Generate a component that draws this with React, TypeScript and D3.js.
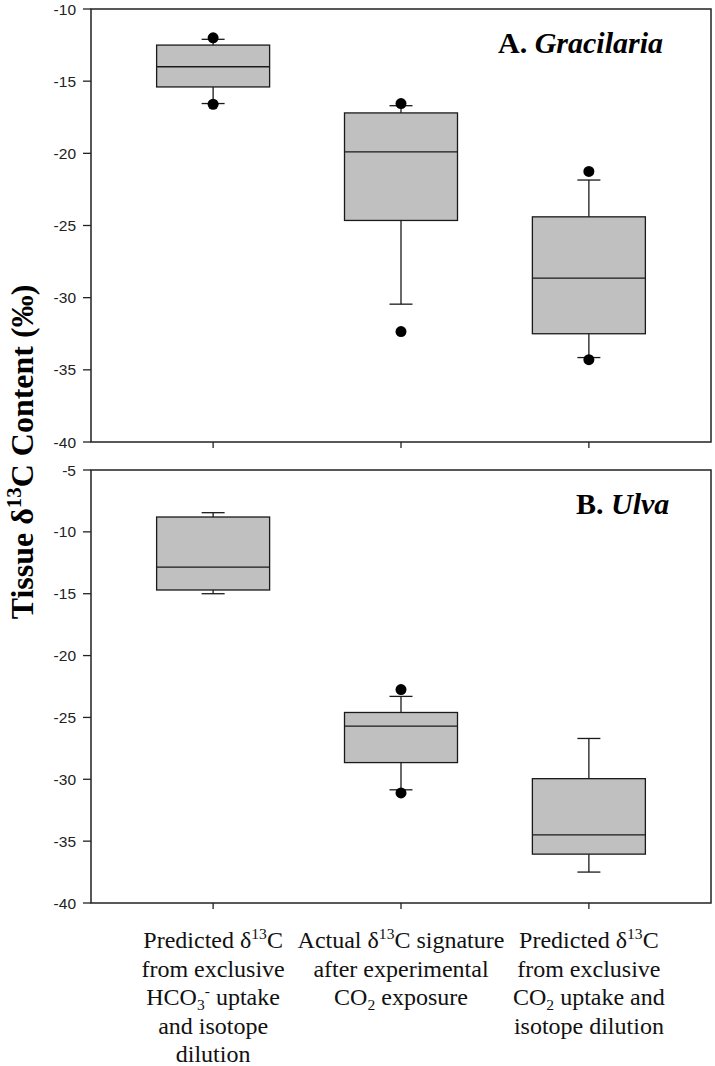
import React from "react";
import * as d3 from "d3";

// category labels (^{} = superscript, _{} = subscript)
const categories = ["hco3", "actual", "co2"];
const categoryLabels = [
  ["Predicted δ^{13}C", "from exclusive", "HCO_{3}^{-} uptake", "and isotope", "dilution"],
  ["Actual δ^{13}C signature", "after experimental", "CO_{2} exposure"],
  ["Predicted δ^{13}C", "from exclusive", "CO_{2} uptake and", "isotope dilution"],
];

// A. Gracilaria
const gracQ1 = [-15.4, -24.65, -32.5];
const gracMedian = [-14.0, -19.9, -28.65];
const gracQ3 = [-12.5, -17.2, -24.4];
const gracWhiskLow = [-16.55, -30.45, -34.15];
const gracWhiskHigh = [-12.1, -16.7, -21.85];
const gracOutliers = [[-12.0, -16.6], [-16.55, -32.35], [-21.25, -34.3]];

// B. Ulva
const ulvaQ1 = [-14.7, -28.65, -36.05];
const ulvaMedian = [-12.85, -25.7, -34.5];
const ulvaQ3 = [-8.8, -24.6, -29.95];
const ulvaWhiskLow = [-15.0, -30.85, -37.5];
const ulvaWhiskHigh = [-8.45, -23.3, -26.7];
const ulvaOutliers = [[], [-22.75, -31.1], []];

const gracTicks = [-40, -35, -30, -25, -20, -15, -10];
const ulvaTicks = [-40, -35, -30, -25, -20, -15, -10, -5];

const serif = "'Times New Roman', 'Liberation Serif', serif";
const sans = "Arial, 'Liberation Sans', sans-serif";

const left = 91;
const right = 711;

const x = d3.scalePoint<string>().domain(categories).range([left, right]).padding(0.65);
const boxW = 113;
const capW = 23;

// split "a^{b}c_{d}" into pieces
const parts = (s: string) =>
  s.split(/(\^\{[^}]*\}|_\{[^}]*\})/).filter((p) => p !== "").map((p) => {
    if (p.startsWith("^{")) return { t: p.slice(2, -1), k: "sup" };
    if (p.startsWith("_{")) return { t: p.slice(2, -1), k: "sub" };
    return { t: p, k: "" };
  });

const RichText = ({ s, size }: { s: string; size: number }) => {
  let shift = 0;
  const out: any[] = [];
  parts(s).forEach((p, i) => {
    const target = p.k === "sup" ? -size * 0.38 : p.k === "sub" ? size * 0.22 : 0;
    out.push(
      <tspan key={i} dy={target - shift} fontSize={p.k ? size * 0.65 : size}>
        {p.t}
      </tspan>
    );
    shift = target;
  });
  return <>{out}</>;
};

const Panel = ({ top, bottom, domain, ticks, q1, med, q3, lo, hi, outl, name, labelX, labelSize }: any) => {
  const y = d3.scaleLinear().domain(domain).range([bottom, top]);
  return (
    <g>
      {categories.map((c, i) => {
        const cx = x(c)!;
        return (
          <g key={c} stroke="#1a1a1a" strokeWidth={1.3}>
            <line x1={cx} x2={cx} y1={y(q3[i])} y2={y(hi[i])} />
            <line x1={cx} x2={cx} y1={y(q1[i])} y2={y(lo[i])} />
            <line x1={cx - capW / 2} x2={cx + capW / 2} y1={y(hi[i])} y2={y(hi[i])} />
            <line x1={cx - capW / 2} x2={cx + capW / 2} y1={y(lo[i])} y2={y(lo[i])} />
            <rect x={cx - boxW / 2} width={boxW} y={y(q3[i])} height={y(q1[i]) - y(q3[i])} fill="#c0c0c0" />
            <line x1={cx - boxW / 2} x2={cx + boxW / 2} y1={y(med[i])} y2={y(med[i])} />
            {outl[i].map((v: number, j: number) => (
              <circle key={j} cx={cx} cy={y(v)} r={5.5} fill="#000" stroke="none" />
            ))}
          </g>
        );
      })}
      <rect x={left} y={top} width={right - left} height={bottom - top} fill="none" stroke="#222" strokeWidth={1.5} />
      {ticks.map((t: number) => (
        <g key={t}>
          <line x1={left - 8} x2={left} y1={y(t)} y2={y(t)} stroke="#222" strokeWidth={1.3} />
          <text x={left - 15} y={y(t)} dy="0.36em" textAnchor="end" fontFamily={sans} fontSize={15.5} fill="#222">
            {t}
          </text>
        </g>
      ))}
      {categories.map((c) => (
        <line key={c} x1={x(c)} x2={x(c)} y1={bottom} y2={bottom + 6} stroke="#222" strokeWidth={1.3} />
      ))}
      <text x={labelX} y={top + 44} fontFamily={serif} fontSize={labelSize} fontWeight="bold" fill="#000">
        {name[0]}
        <tspan fontStyle="italic">{name[1]}</tspan>
      </text>
    </g>
  );
};

export default function App() {
  return (
    <svg width={715} height={1066} style={{ position: "absolute", left: 0, top: 0, background: "#fff" }}>
      <Panel top={9} bottom={442} domain={[-40, -10]} ticks={gracTicks} q1={gracQ1} med={gracMedian} q3={gracQ3}
        lo={gracWhiskLow} hi={gracWhiskHigh} outl={gracOutliers} name={["A. ", "Gracilaria"]} labelX={498} labelSize={30} />
      <Panel top={470} bottom={903} domain={[-40, -5]} ticks={ulvaTicks} q1={ulvaQ1} med={ulvaMedian} q3={ulvaQ3}
        lo={ulvaWhiskLow} hi={ulvaWhiskHigh} outl={ulvaOutliers} name={["B. ", "Ulva"]} labelX={576} labelSize={30} />
      <text transform="translate(33,452) rotate(-90)" textAnchor="middle" fontFamily={serif} fontSize={32}
        fontWeight="bold" fill="#000">
        <RichText s="Tissue δ^{13}C Content (‰)" size={32} />
      </text>
      {categoryLabels.map((lines, i) => (
        <g key={i}>
          {lines.map((ln, j) => (
            <text key={j} x={x(categories[i])} y={948 + j * 28.5} textAnchor="middle" fontFamily={serif}
              fontSize={24} fill="#111">
              <RichText s={ln} size={24} />
            </text>
          ))}
        </g>
      ))}
    </svg>
  );
}
